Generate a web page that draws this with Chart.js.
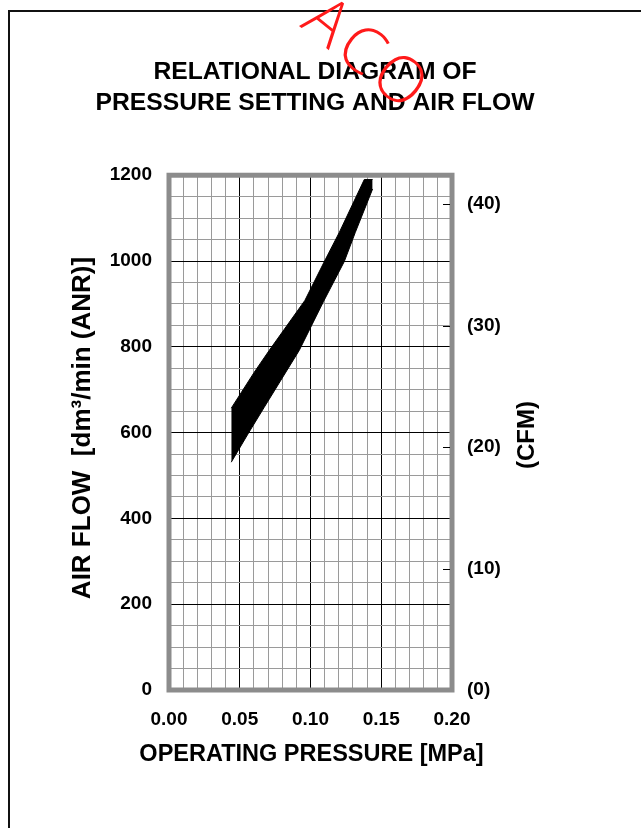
<!DOCTYPE html>
<html>
<head>
<meta charset="utf-8">
<title>Relational diagram of pressure setting and air flow</title>
<script src="https://cdn.jsdelivr.net/npm/chart.js@4.4.1/dist/chart.umd.min.js"></script>
<style>
    html, body { margin: 0; padding: 0; background: #fff; }
    #page-border {
        position: absolute; left: 8px; top: 10px; width: 700px; height: 900px;
        border-left: 2px solid #111; border-top: 2px solid #111;
    }
    #chart { position: absolute; left: 0; top: 0; }
</style>
</head>
<body>
<div id="page-border"></div>
<canvas id="chart" width="641" height="828"></canvas>
<script>
// Air flow band (upper / lower edge) vs operating pressure
const upperPressure = [0.0440, 0.0603, 0.0709, 0.0960, 0.1098, 0.1204, 0.1380, 0.1439];
const upperFlow     = [657, 741, 792, 908, 999, 1067, 1190, 1190];
const lowerPressure = [0.0440, 0.0562, 0.0673, 0.0921, 0.1091, 0.1239, 0.1317, 0.1439];
const lowerFlow     = [531, 599, 659, 792, 905, 999, 1067, 1168];

const pressureTicks = [0, 0.05, 0.10, 0.15, 0.20];
const flowTicks = [0, 200, 400, 600, 800, 1000, 1200];
const cfmTicks = [0, 10, 20, 30, 40];

const titleLines = ['RELATIONAL DIAGRAM OF', 'PRESSURE SETTING AND AIR FLOW'];
const xTitle = 'OPERATING PRESSURE [MPa]';
const yTitle = 'AIR FLOW  [dm³/min (ANR)]';
const y2Title = '(CFM)';
const watermark = 'ACO';

const DM3_PER_CFM = 28.3168;
const FONT = '"Liberation Sans", Arial, sans-serif';

const toPoints = (xs, ys) => xs.map((x, i) => ({ x, y: ys[i] }));
const isIn = (list, v) => list.some(t => Math.abs(t - v) < 1e-9);

function drawText(ctx, text, x, y, font, rotation) {
    ctx.save();
    ctx.fillStyle = '#000';
    ctx.font = font;
    ctx.textAlign = 'center';
    ctx.textBaseline = 'middle';
    ctx.translate(x, y);
    ctx.rotate(rotation || 0);
    ctx.fillText(text, 0, 0);
    ctx.restore();
}

const framePlugin = {
    id: 'frame',
    afterDatasetsDraw(chart) {
        const { ctx, chartArea: a } = chart;
        ctx.save();
        ctx.strokeStyle = '#8c8c8c';
        ctx.lineWidth = 5;
        ctx.strokeRect(a.left, a.top, a.right - a.left, a.bottom - a.top);

        // short inward ticks for the CFM scale
        const y2 = chart.scales.y2;
        ctx.strokeStyle = '#000';
        ctx.lineWidth = 1;
        cfmTicks.forEach(v => {
            if (v === 0) return;
            const py = Math.round(y2.getPixelForValue(v)) + 0.5;
            ctx.beginPath();
            ctx.moveTo(a.right - 9, py);
            ctx.lineTo(a.right - 2, py);
            ctx.stroke();
        });
        ctx.restore();
    },
    afterDraw(chart) {
        const { ctx, chartArea: a } = chart;
        // axis titles (the x title is wider than the plot, so drawn here)
        drawText(ctx, xTitle, (a.left + a.right) / 2 + 1, 755, 'bold 23.5px ' + FONT);
        drawText(ctx, yTitle, 83, 428, 'bold 26px ' + FONT, -Math.PI / 2);
        drawText(ctx, y2Title, 527, 435, 'bold 24px ' + FONT, -Math.PI / 2);

        ctx.save();
        ctx.fillStyle = '#ff1a1a';
        ctx.font = '300 64px "Open Sans", ' + FONT;
        ctx.letterSpacing = '5px';
        ctx.translate(299, 26);
        ctx.rotate(39 * Math.PI / 180);
        ctx.fillText(watermark, 0, 0);
        ctx.restore();
    }
};

const tickFont = { family: FONT, size: 19, weight: 'bold' };

new Chart(document.getElementById('chart'), {
    type: 'scatter',
    data: {
        datasets: [
            {
                label: 'upper',
                data: toPoints(upperPressure, upperFlow),
                showLine: true,
                borderColor: '#000',
                borderWidth: 1,
                backgroundColor: '#000',
                pointRadius: 0,
                fill: '+1'
            },
            {
                label: 'lower',
                data: toPoints(lowerPressure, lowerFlow),
                showLine: true,
                borderColor: '#000',
                borderWidth: 1,
                backgroundColor: '#000',
                pointRadius: 0,
                fill: false
            }
        ]
    },
    options: {
        responsive: false,
        animation: false,
        devicePixelRatio: 1,
        layout: { padding: { left: 0, right: 11, top: 0, bottom: 0 } },
        plugins: {
            legend: { display: false },
            tooltip: { enabled: false },
            title: {
                display: true,
                text: titleLines,
                color: '#000',
                font: { family: FONT, size: 24.7, weight: 'bold', lineHeight: 1.28 },
                padding: { top: 56, bottom: 56 }
            }
        },
        scales: {
            x: {
                type: 'linear',
                min: 0,
                max: 0.2,
                afterFit: s => { s.height = 138; },
                border: { display: false },
                grid: {
                    drawTicks: false,
                    color: c => isIn(pressureTicks, c.tick.value) ? '#000' : '#9a9a9a'
                },
                ticks: {
                    stepSize: 0.01,
                    autoSkip: false,
                    maxRotation: 0,
                    minRotation: 0,
                    padding: 18,
                    color: '#000',
                    font: tickFont,
                    callback: v => isIn(pressureTicks, v) ? v.toFixed(2) : ''
                }
            },
            y: {
                type: 'linear',
                min: 0,
                max: 1200,
                afterFit: s => { s.width = 169; },
                border: { display: false },
                grid: {
                    drawTicks: false,
                    color: c => isIn(flowTicks, c.tick.value) ? '#000' : '#9a9a9a'
                },
                ticks: {
                    stepSize: 50,
                    autoSkip: false,
                    padding: 17,
                    color: '#000',
                    font: tickFont,
                    callback: v => isIn(flowTicks, v) ? String(v) : ''
                }
            },
            y2: {
                type: 'linear',
                position: 'right',
                min: 0,
                max: 1200 / DM3_PER_CFM,
                afterFit: s => { s.width = 178; },
                border: { display: false },
                grid: { drawOnChartArea: false, drawTicks: false },
                ticks: {
                    stepSize: 10,
                    includeBounds: false,
                    autoSkip: false,
                    padding: 15,
                    color: '#000',
                    font: tickFont,
                    callback: v => isIn(cfmTicks, v) ? '(' + v + ')' : ''
                }
            }
        }
    },
    plugins: [framePlugin]
});
</script>
</body>
</html>
